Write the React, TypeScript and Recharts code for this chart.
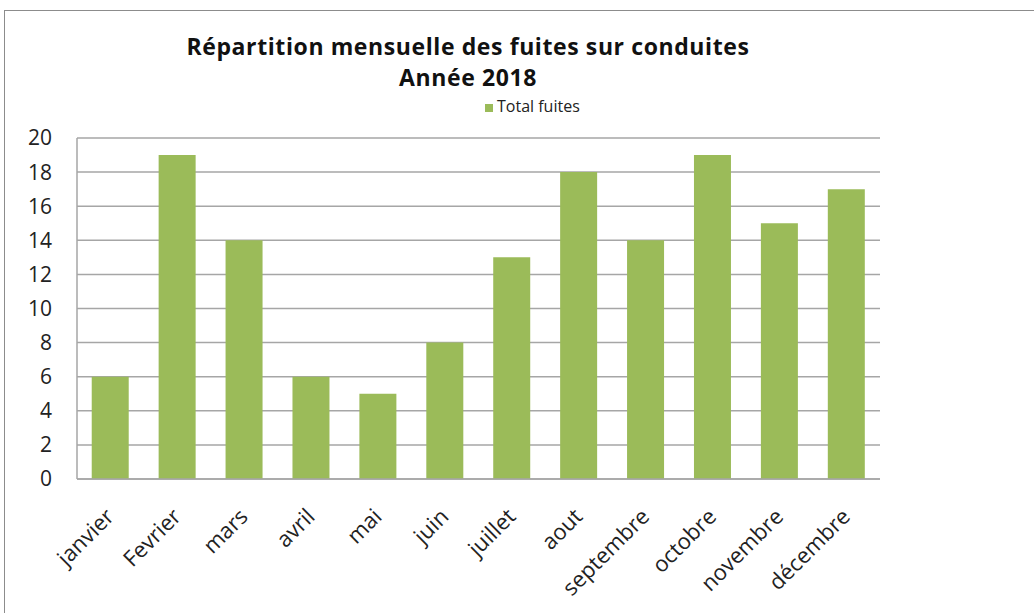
import React from "react";
import {
  BarChart,
  Bar,
  XAxis,
  YAxis,
  CartesianGrid,
  Legend,
} from "recharts";

const months = [
  "janvier",
  "Fevrier",
  "mars",
  "avril",
  "mai",
  "juin",
  "juillet",
  "aout",
  "septembre",
  "octobre",
  "novembre",
  "décembre",
];
const totalFuites = [6, 19, 14, 6, 5, 8, 13, 18, 14, 19, 15, 17];
const yTicks = [0, 2, 4, 6, 8, 10, 12, 14, 16, 18, 20];

const data = months.map((m, i) => ({ mois: m, total: totalFuites[i] }));

const FONT = "'Open Sans', Lato, sans-serif";
const GREEN = "#9bbb59";
const GRID = "#a6a6a6";

const MonthTick = (props: any) => {
  const { x, y, payload } = props;
  return (
    <g transform={`translate(${x + 5},${y + 31})`}>
      <text
        x={0}
        y={0}
        textAnchor="end"
        transform="rotate(-45)"
        fill="#222"
        fontSize={22}
        fontFamily={FONT}
      >
        {payload.value}
      </text>
    </g>
  );
};

const App = () => {
  return (
    <div
      style={{
        position: "absolute",
        left: 4,
        top: 10,
        width: 1030,
        height: 603,
        borderLeft: "1px solid #8c8c8c",
        borderTop: "1px solid #8c8c8c",
        boxSizing: "border-box",
        background: "#fff",
        fontFamily: FONT,
      }}
    >
      <div
        style={{
          position: "absolute",
          left: 0,
          top: 20,
          width: 926,
          textAlign: "center",
          fontWeight: 700,
          fontSize: 23,
          letterSpacing: 0.6,
          lineHeight: "31px",
          color: "#111",
        }}
      >
        Répartition mensuelle des fuites sur conduites
        <br />
        Année 2018
      </div>
      <BarChart
        width={1029}
        height={602}
        data={data}
        margin={{ top: 127, right: 154, bottom: 34, left: 0 }}
        barCategoryGap="22%"
      >
        <CartesianGrid vertical={false} stroke={GRID} strokeWidth={1.5} />
        <XAxis
          dataKey="mois"
          interval={0}
          height={100}
          tick={<MonthTick />}
          tickLine={false}
          axisLine={{ stroke: GRID, strokeWidth: 1.5 }}
        />
        <YAxis
          domain={[0, 20]}
          ticks={yTicks}
          width={72}
          tickSize={0}
          tickMargin={25}
          tickLine={false}
          axisLine={{ stroke: GRID, strokeWidth: 1.5 }}
          tick={{ fill: "#222", fontSize: 21, fontFamily: FONT }}
        />
        <Legend
          layout="horizontal"
          verticalAlign="middle"
          align="center"
          iconType="square"
          iconSize={8}
          wrapperStyle={{ top: 84, left: 480, width: "auto", fontSize: 16 }}
          formatter={(v: string) => (
            <span style={{ color: "#222", fontFamily: FONT }}>{v}</span>
          )}
        />
        <Bar
          dataKey="total"
          name="Total fuites"
          fill={GREEN}
          isAnimationActive={false}
        />
      </BarChart>
    </div>
  );
};

export default App;
